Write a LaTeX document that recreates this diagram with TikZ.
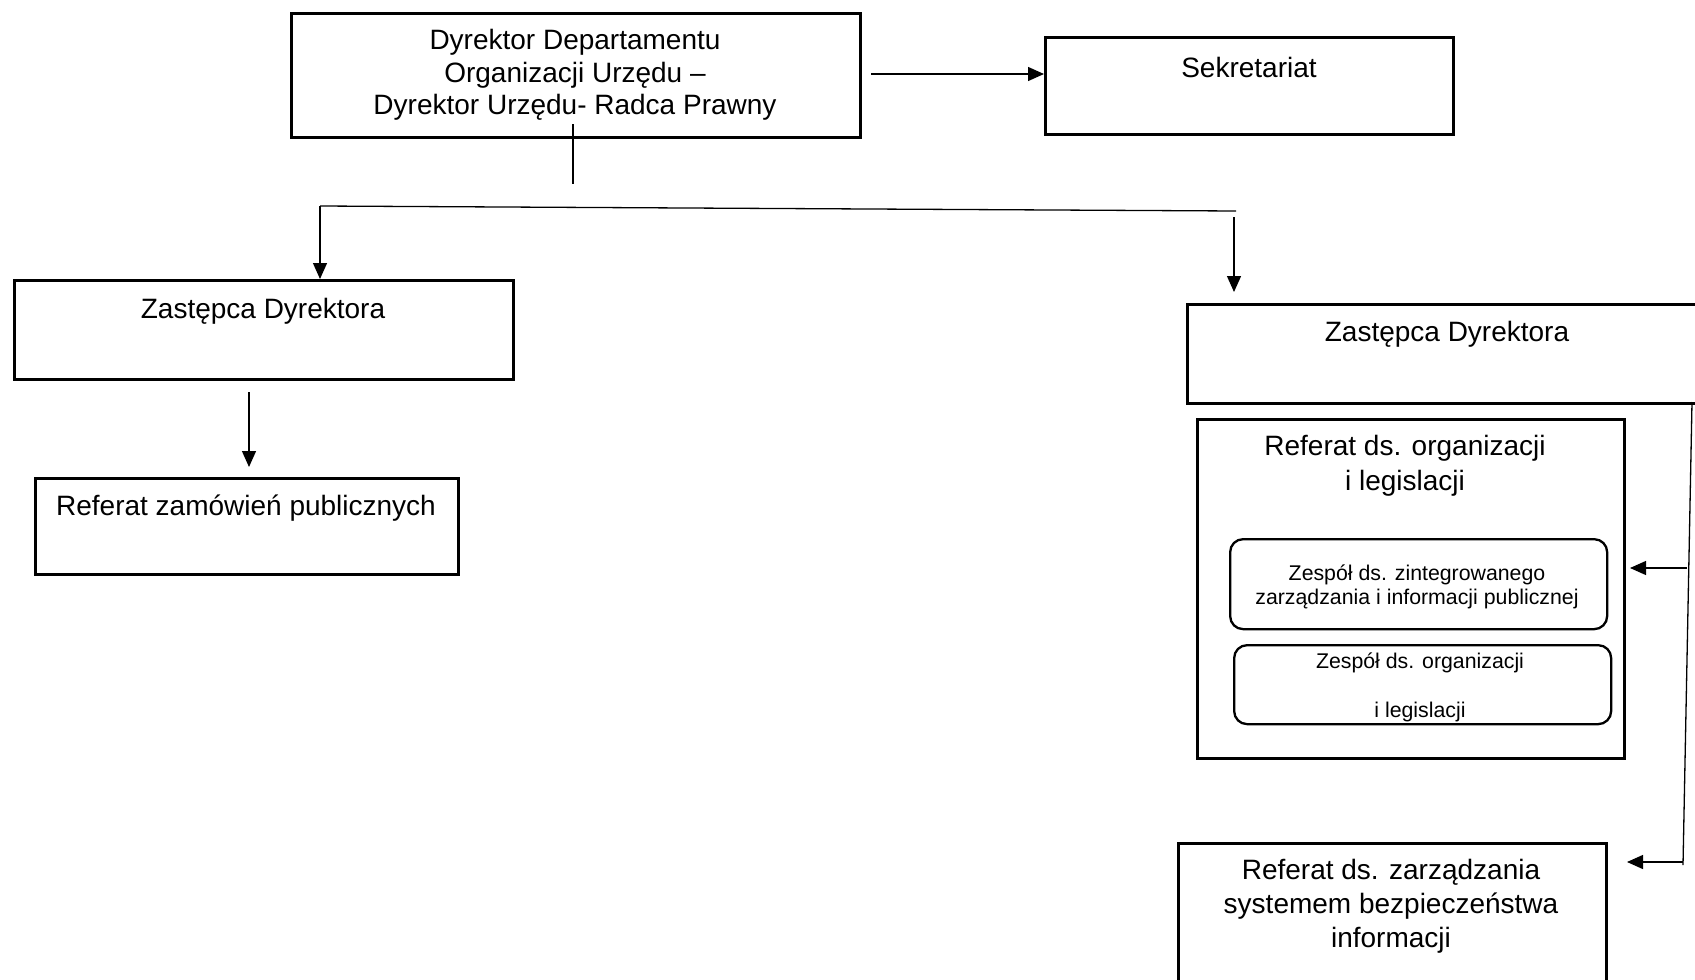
\documentclass[tikz,border=0pt]{standalone}
\usepackage{fontspec}
\setmainfont{Liberation Sans}
\usetikzlibrary{arrows.meta}
\begin{document}
\begin{tikzpicture}[x=1pt,y=-1pt,
  box/.style={draw,line width=2.6pt,rectangle,inner sep=0pt,anchor=north west},
  rbox/.style={draw,line width=2.3pt,rectangle,rounded corners=13pt,inner sep=0pt,anchor=north west},
  big/.style={font=\fontsize{28}{32.4}\selectfont,align=center,inner sep=0pt},
  small/.style={font=\fontsize{21.3}{24.5}\selectfont,align=center,inner sep=0pt},
  conn/.style={line width=1.3pt},
  arr/.style={line width=1.3pt,-{Triangle[length=16pt,width=14pt]}}]
\useasboundingbox (0,0) rectangle (1695,980);
% boxes
\node[box,minimum width=569pt,minimum height=124pt] (dir) at (290,12) {};
\node[big] (dirt) at (575,75) {Dyrektor Departamentu\\ Organizacji Urzędu –\\Dyrektor Urzędu- Radca Prawny};
\node[box,minimum width=408pt,minimum height=97pt] (sek) at (1044,36) {};
\node[big] (sekt) at (1249,67) {Sekretariat};
\node[box,minimum width=499pt,minimum height=99pt] (zl) at (13,279) {};
\node[big] (zlt) at (263,311) {Zastępca Dyrektora};
\node[box,minimum width=423pt,minimum height=96pt] (zam) at (34,477) {};
\node[big] (zamt) at (246,508) {Referat zamówień publicznych};
\node[box,minimum width=520pt,minimum height=99pt] (zr) at (1186,303) {};
\node[big] (zrt) at (1447,334) {Zastępca Dyrektora};
\node[box,minimum width=427pt,minimum height=339pt] (org) at (1196,418) {};
\node[big,font=\fontsize{28}{35.5}\selectfont] (orgt) at (1405,466) {Referat ds. organizacji\\i legislacji};
\node[rbox,minimum width=377pt,minimum height=90pt] (z1) at (1229,538) {};
\node[small] (z1t) at (1417,587) {Zespół ds. zintegrowanego\\zarządzania i informacji publicznej};
\node[rbox,minimum width=377pt,minimum height=79pt] (z2) at (1233,644) {};
\node[small] (z2t) at (1420,687) {Zespół ds. organizacji\\[24.5pt]i legislacji};
\node[box,minimum width=428pt,minimum height=160pt] (zar) at (1177,842) {};
\node[big,font=\fontsize{28}{34}\selectfont] (zart) at (1391,906) {Referat ds. zarządzania\\systemem bezpieczeństwa\\informacji};
% coordinates
\coordinate (vtop) at (573,124);
\coordinate (vbot) at (573,184);
\coordinate (hL) at (320,206);
\coordinate (hR) at (1236,211);
\coordinate (rA) at (1234,217);
\coordinate (rB) at (1234,292);
\coordinate (lA) at (249,392);
\coordinate (lB) at (249,467);
\coordinate (sA) at (871,74);
\coordinate (sB) at (1044,74);
\coordinate (rvT) at (1692,402);
\coordinate (rvB) at (1683,865);
\coordinate (a1s) at (1687,568);
\coordinate (a1e) at (1630,568);
\coordinate (a2s) at (1683,862);
\coordinate (a2e) at (1627,862);
% connectors
\draw[arr] (sA) -- (sB);
\draw[conn] (vtop) -- (vbot);
\draw[conn] (hL) -- (hR);
\draw[arr] (hL) -- (hL |- zl.north);
\draw[arr] (rA) -- (rB);
\draw[arr] (lA) -- (lB);
\draw[conn] (rvT) -- (rvB);
\draw[arr] (a1s) -- (a1e);
\draw[arr] (a2s) -- (a2e);
\end{tikzpicture}
\end{document}
